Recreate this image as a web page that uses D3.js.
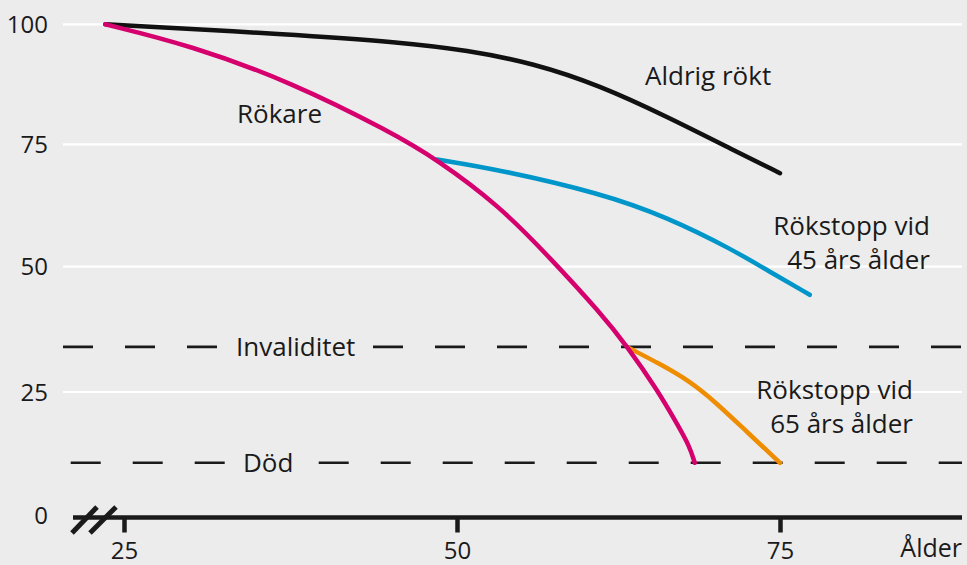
<!DOCTYPE html>
<html>
<head>
<meta charset="utf-8">
<script src="https://cdn.jsdelivr.net/npm/d3@7"></script>
<style>
  html, body { margin: 0; padding: 0; background: #ececec; }
  svg { display: block; }
  text { font-family: "Open Sans", Lato, sans-serif; fill: #1a1a1a; }
</style>
</head>
<body>
<svg id="chart" width="967" height="565"></svg>
<script>
// ---- data ----
const yTicks = [0, 25, 50, 75, 100];
const xTicks = [25, 50, 75];
const xTitle = "Ålder";

const neverAge = [23.6, 37.5, 45.7, 50.8, 55.9, 61.1, 66.3, 71.4, 75.0];
const neverVal = [100, 97.9, 96.3, 94.6, 91.9, 87.2, 80.7, 73.8, 69.1];

const smokerAge = [23.6, 30.0, 37.5, 45.0, 48.5, 53.3, 57.2, 61.1, 63.2, 65.5, 67.0, 68.0, 68.4];
const smokerVal = [100, 95.6, 88.0, 77.6, 71.9, 62.4, 51.8, 40.8, 34.0, 25.4, 18.8, 14.2, 10.9];

const quit45Age = [48.5, 53.3, 61.1, 66.2, 71.4, 74.0, 77.3];
const quit45Val = [71.9, 69.8, 65.0, 60.2, 53.4, 49.3, 44.4];

const quit65Age = [63.3, 65.7, 68.0, 70.0, 72.3, 75.0];
const quit65Val = [33.8, 30.6, 27.2, 23.0, 17.4, 10.9];

const thresholdNames = ["Invaliditet", "Död"];
const thresholdValues = [34.0, 10.9];

const seriesNames = ["Aldrig rökt", "Rökare", "Rökstopp vid 45 års ålder", "Rökstopp vid 65 års ålder"];
const seriesColors = ["#111111", "#d5006d", "#0096c9", "#ef8d00"];

// ---- scales ----
const x = d3.scaleLinear().domain([25, 50, 75]).range([124, 457, 780]);
const y = d3.scaleLinear().domain([0, 25, 50, 75, 100]).range([517.5, 392, 266.7, 144.3, 24.3]);

const FS = 26, TFS = 24;
const svg = d3.select("#chart");
const gridX0 = 63, gridX1 = 962;

svg.append("rect").attr("width", 967).attr("height", 565).attr("fill", "#ececec");

// gridlines
svg.append("g").selectAll("line")
  .data(yTicks.filter(v => v > 0))
  .join("line")
  .attr("x1", gridX0).attr("x2", gridX1)
  .attr("y1", d => y(d)).attr("y2", d => y(d))
  .attr("stroke", "#ffffff").attr("stroke-width", 2.2);

// y tick labels
svg.append("g").selectAll("text")
  .data(yTicks)
  .join("text")
  .attr("x", 48)
  .attr("y", d => y(d) + (d === 0 ? -2 : 0))
  .attr("dy", "0.36em")
  .attr("text-anchor", "end")
  .attr("font-size", TFS)
  .text(d => d);

// threshold dashed lines
const thrStart = [63, 70.7];
const thrLabelX = [236, 243];
const thrG = svg.append("g");
thresholdValues.forEach((v, i) => {
  thrG.append("line")
    .attr("x1", thrStart[i]).attr("x2", gridX1)
    .attr("y1", y(v)).attr("y2", y(v))
    .attr("stroke", "#1a1a1a").attr("stroke-width", 2.6)
    .attr("stroke-dasharray", "30,32");
  const t = thrG.append("text")
    .attr("x", thrLabelX[i]).attr("y", y(v))
    .attr("dy", "0.36em")
    .attr("font-size", FS)
    .text(thresholdNames[i]);
  const bb = t.node().getBBox();
  thrG.insert("rect", () => t.node())
    .attr("x", bb.x - 4).attr("y", y(v) - 4)
    .attr("width", bb.width + 8).attr("height", 8)
    .attr("fill", "#ececec");
});

// curves
const line = d3.line().x(d => x(d[0])).y(d => y(d[1])).curve(d3.curveBasis);
const seriesData = [
  d3.zip(neverAge, neverVal),
  d3.zip(smokerAge, smokerVal),
  d3.zip(quit45Age, quit45Val),
  d3.zip(quit65Age, quit65Val)
];
[0, 2, 3, 1].forEach(i => {
  svg.append("path")
    .datum(seriesData[i])
    .attr("d", line)
    .attr("fill", "none")
    .attr("stroke", seriesColors[i])
    .attr("stroke-width", 4.5)
    .attr("stroke-linecap", "round");
});

// series labels
const labelG = svg.append("g").attr("font-size", FS);
labelG.append("text").attr("x", 645).attr("y", 85).text("Aldrig rökt");
labelG.append("text").attr("x", 237).attr("y", 123).text("Rökare");
const q45 = labelG.append("text").attr("text-anchor", "end");
q45.append("tspan").attr("x", 930).attr("y", 235).text("Rökstopp vid");
q45.append("tspan").attr("x", 930).attr("y", 269).text("45 års ålder");
const q65 = labelG.append("text").attr("text-anchor", "end");
q65.append("tspan").attr("x", 913).attr("y", 399).text("Rökstopp vid");
q65.append("tspan").attr("x", 913).attr("y", 433).text("65 års ålder");

// x axis
const axisY = y(0);
svg.append("line")
  .attr("x1", 73).attr("x2", gridX1)
  .attr("y1", axisY).attr("y2", axisY)
  .attr("stroke", "#1a1a1a").attr("stroke-width", 4.5);

// axis break marks
const brk = svg.append("g").attr("stroke", "#1a1a1a").attr("stroke-width", 5);
[[72, 97], [90, 116]].forEach(([a, b]) => {
  brk.append("line").attr("x1", a).attr("y1", 533).attr("x2", b).attr("y2", 507);
});

const xAxis = d3.axisBottom(x).tickValues(xTicks).tickSize(15).tickSizeOuter(0);
const xg = svg.append("g").attr("transform", `translate(0,${axisY})`).call(xAxis);
xg.select(".domain").remove();
xg.selectAll(".tick line").attr("stroke", "#1a1a1a").attr("stroke-width", 4.5);
xg.selectAll(".tick text")
  .attr("y", 41).attr("dy", 0)
  .attr("font-size", TFS)
  .attr("font-family", "'Open Sans', Lato, sans-serif")
  .attr("fill", "#1a1a1a");

svg.append("text")
  .attr("x", 962).attr("y", 557)
  .attr("text-anchor", "end")
  .attr("font-size", 25)
  .text(xTitle);
</script>
</body>
</html>
